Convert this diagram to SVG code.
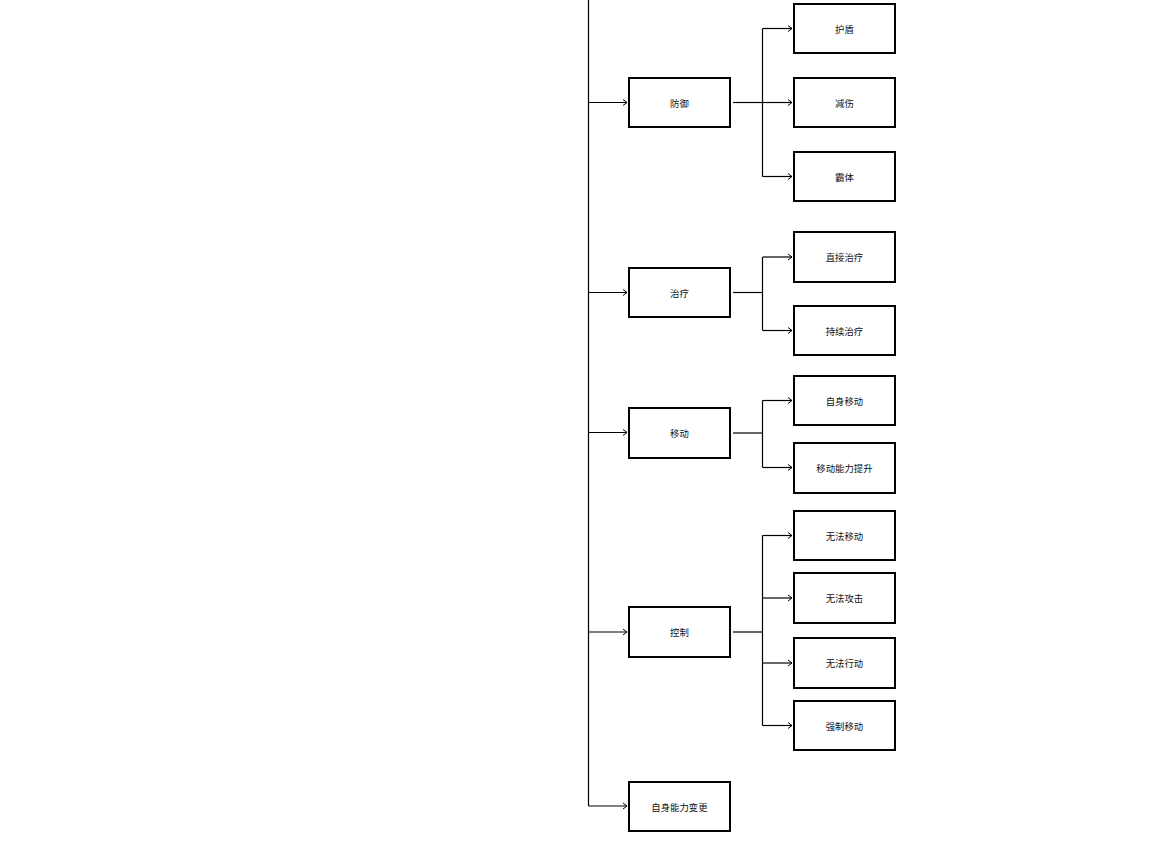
<svg xmlns="http://www.w3.org/2000/svg" width="1164" height="852" viewBox="0 0 1164 852">
<defs>
<marker id="arr" markerWidth="8" markerHeight="8" refX="6" refY="4" orient="auto" markerUnits="userSpaceOnUse">
<path d="M2,1 L6,4 L2,7" fill="none" stroke="#000" stroke-width="1"/>
</marker>
<style>
.box{fill:#fff;stroke:#000;stroke-width:2}
.lbl{font-family:"Liberation Sans","Noto Sans CJK SC",sans-serif;font-size:9.4px;fill:#111;text-anchor:middle;dominant-baseline:central}
.ln{fill:none;stroke:#000;stroke-width:1.2}
.ar{fill:none;stroke:#000;stroke-width:1.2;marker-end:url(#arr)}
</style>
</defs>
<rect width="1164" height="852" fill="#fff"/>
<g id="connectors">
<path class="ln" d="M588.5,0 V806" stroke-width="1.6"/>
<path class="ar" d="M588.5,102.5 H627"/>
<path class="ar" d="M588.5,292.5 H627"/>
<path class="ar" d="M588.5,432.5 H627"/>
<path class="ar" d="M588.5,632 H627"/>
<path class="ar" d="M588.5,806 H627"/>
<path class="ln" d="M733,102.5 H762.5"/>
<path class="ln" d="M762.5,28.5 V176.5"/>
<path class="ar" d="M762.5,28.5 H792"/>
<path class="ar" d="M762.5,102.5 H792"/>
<path class="ar" d="M762.5,176.5 H792"/>
<path class="ln" d="M733,292.5 H762.5"/>
<path class="ln" d="M762.5,257 V330.5"/>
<path class="ar" d="M762.5,257 H792"/>
<path class="ar" d="M762.5,330.5 H792"/>
<path class="ln" d="M733,433 H762.5" stroke-width="2"/>
<path class="ln" d="M762.5,400.5 V467.5"/>
<path class="ar" d="M762.5,400.5 H792"/>
<path class="ar" d="M762.5,467.5 H792"/>
<path class="ln" d="M733,632 H762.5" stroke-width="2"/>
<path class="ln" d="M762.5,535.5 V725.5"/>
<path class="ar" d="M762.5,535.5 H792"/>
<path class="ar" d="M762.5,598 H792"/>
<path class="ar" d="M762.5,663 H792"/>
<path class="ar" d="M762.5,725.5 H792"/>
</g>
<g id="n-fangyu"><rect class="box" x="629" y="78" width="101" height="49"/><text class="lbl" x="679.5" y="103">防御</text></g>
<g id="n-zhiliao"><rect class="box" x="629" y="268" width="101" height="49"/><text class="lbl" x="679.5" y="293">治疗</text></g>
<g id="n-yidong"><rect class="box" x="629" y="408" width="101" height="50"/><text class="lbl" x="679.5" y="433.5">移动</text></g>
<g id="n-kongzhi"><rect class="box" x="629" y="607" width="101" height="50"/><text class="lbl" x="679.5" y="632.5">控制</text></g>
<g id="n-zishen"><rect class="box" x="629" y="782" width="101" height="49"/><text class="lbl" x="679.5" y="807">自身能力变更</text></g>
<g id="n-hudun"><rect class="box" x="794" y="4" width="101" height="49"/><text class="lbl" x="844.5" y="29">护盾</text></g>
<g id="n-jianshang"><rect class="box" x="794" y="78" width="101" height="49"/><text class="lbl" x="844.5" y="103">减伤</text></g>
<g id="n-bati"><rect class="box" x="794" y="152" width="101" height="49"/><text class="lbl" x="844.5" y="177">霸体</text></g>
<g id="n-zhijie"><rect class="box" x="794" y="232" width="101" height="50"/><text class="lbl" x="844.5" y="257.5">直接治疗</text></g>
<g id="n-chixu"><rect class="box" x="794" y="306" width="101" height="49"/><text class="lbl" x="844.5" y="331">持续治疗</text></g>
<g id="n-zishenyidong"><rect class="box" x="794" y="376" width="101" height="49"/><text class="lbl" x="844.5" y="401">自身移动</text></g>
<g id="n-tisheng"><rect class="box" x="794" y="443" width="101" height="50"/><text class="lbl" x="844.5" y="468.5">移动能力提升</text></g>
<g id="n-wufayidong"><rect class="box" x="794" y="511" width="101" height="49"/><text class="lbl" x="844.5" y="536">无法移动</text></g>
<g id="n-wufagongji"><rect class="box" x="794" y="573" width="101" height="50"/><text class="lbl" x="844.5" y="598.5">无法攻击</text></g>
<g id="n-wufaxingdong"><rect class="box" x="794" y="638" width="101" height="50"/><text class="lbl" x="844.5" y="663.5">无法行动</text></g>
<g id="n-qiangzhi"><rect class="box" x="794" y="701" width="101" height="49"/><text class="lbl" x="844.5" y="726">强制移动</text></g>
</svg>
